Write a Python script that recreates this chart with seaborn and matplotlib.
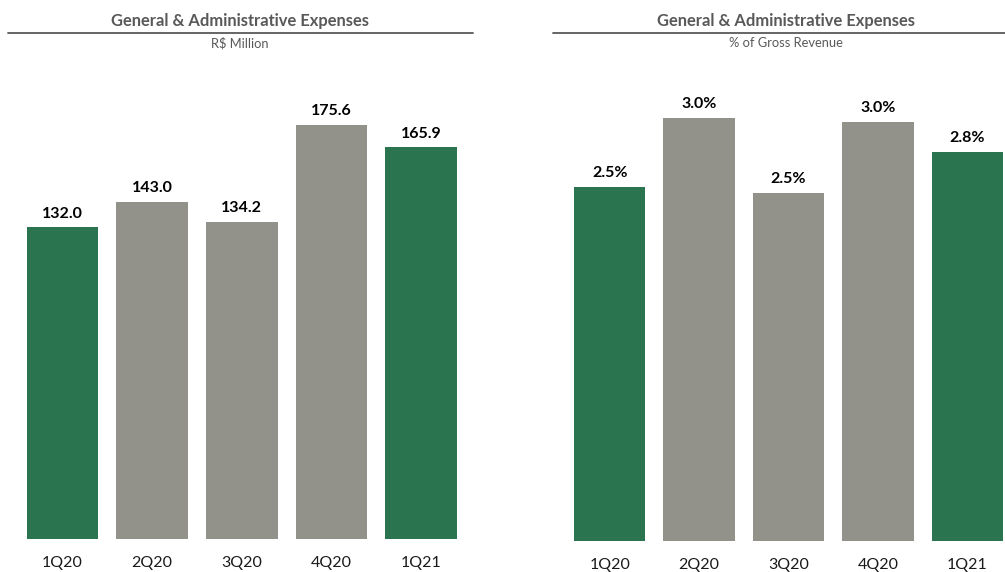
import matplotlib
matplotlib.use("Agg")
import matplotlib.pyplot as plt
import seaborn as sns
from matplotlib.lines import Line2D

quarters = ["1Q20", "2Q20", "3Q20", "4Q20", "1Q21"]
ga_million = [132.0, 143.0, 134.2, 175.6, 165.9]
ga_pct = [2.51, 3.00, 2.47, 2.97, 2.76]
bar_colors = ["#2A7550", "#92928A", "#92928A", "#92928A", "#2A7550"]
title_text = "General & Administrative Expenses"
sub_left = "R$ Million"
sub_right = "% of Gross Revenue"

sns.set_theme(style="white")
plt.rcParams["font.family"] = ["Lato", "DejaVu Sans"]

fig = plt.figure(figsize=(10.05, 5.72), dpi=100)
W, H = 1005, 572

def fx(px):
    return px / W

def fy(py):
    return 1 - py / H

axL = fig.add_axes([fx(17.6), fy(539), fx(448.5), (539 - 60) / H])
axR = fig.add_axes([fx(565), fy(541), fx(447), (541 - 60) / H])

def panel(ax, vals, fmt, ytop):
    sns.barplot(x=quarters, y=vals, hue=quarters, palette=bar_colors,
                width=0.8, saturation=1, legend=False, ax=ax, linewidth=0)
    ax.set_xlim(-0.5, 4.5)
    ax.set_ylim(0, ytop)
    for c in ax.containers:
        ax.bar_label(c, fmt=fmt, padding=5, fontsize=11.5, fontweight="bold", color="black")
    ax.set_yticks([])
    ax.set_ylabel("")
    ax.set_xlabel("")
    for s in ax.spines.values():
        s.set_visible(False)
    ax.tick_params(axis="x", length=0, pad=12, labelsize=11.5, labelcolor="#1a1a1a")

panel(axL, ga_million, "{:.1f}", (539 - 60) / 2.36)
panel(axR, ga_pct, "{:.1f}%", (541 - 60) / 141.0)

# Header lines and titles
fig.add_artist(Line2D([fx(8), fx(473)], [fy(33), fy(33)], color="#595959", lw=1.3))
fig.add_artist(Line2D([fx(553), fx(1005)], [fy(33), fy(33)], color="#595959", lw=1.3))
fig.text(fx(240), fy(21), title_text, ha="center", va="center", fontsize=11.9,
         fontweight="bold", color="#595959")
fig.text(fx(240), fy(43), sub_left, ha="center", va="center", fontsize=9.3, color="#595959")
fig.text(fx(786), fy(21), title_text, ha="center", va="center", fontsize=11.9,
         fontweight="bold", color="#595959")
fig.text(fx(786), fy(43), sub_right, ha="center", va="center", fontsize=9.3, color="#595959")

fig.savefig("out.png", dpi=100)
